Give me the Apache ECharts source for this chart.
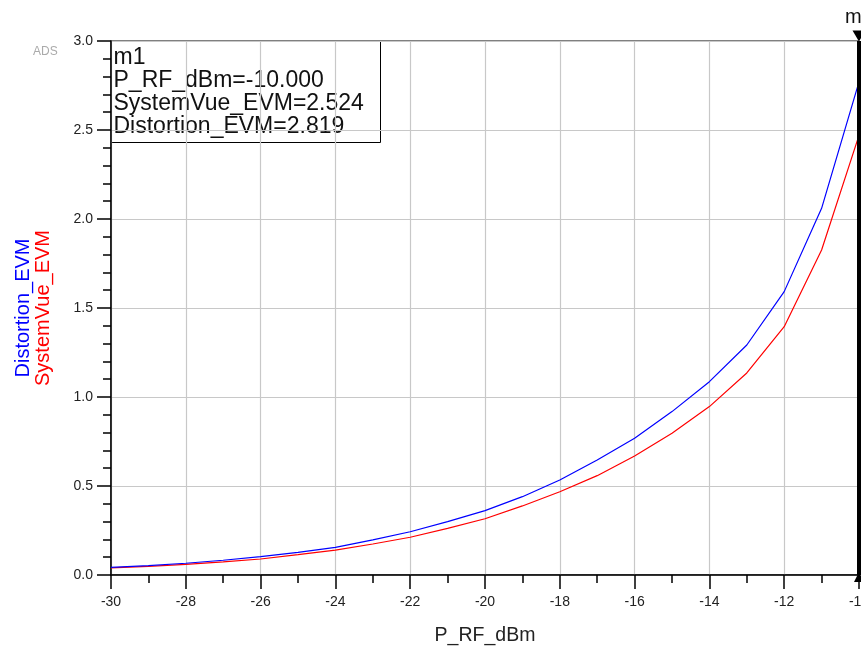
<!DOCTYPE html>
<html>
<head>
<meta charset="utf-8">
<script src="https://cdn.jsdelivr.net/npm/echarts@6/dist/echarts.min.js"></script>
<style>
  html, body { margin: 0; padding: 0; background: #fff; }
  #chart { width: 861px; height: 648px; }
</style>
</head>
<body>
<div id="chart"></div>
<script>
// P_RF_dBm sweep
const pRF = [-30, -29, -28, -27, -26, -25, -24, -23, -22, -21, -20, -19, -18, -17, -16, -15, -14, -13, -12, -11, -10]
// 读图估计的数值
const distortionEVM = [0.043, 0.053, 0.066, 0.083, 0.103, 0.127, 0.155, 0.197, 0.243, 0.30, 0.362, 0.44, 0.534, 0.646, 0.768, 0.918, 1.086, 1.292, 1.592, 2.06, 2.77]
const systemVueEVM = [0.040, 0.049, 0.060, 0.074, 0.090, 0.114, 0.140, 0.174, 0.212, 0.262, 0.316, 0.388, 0.468, 0.558, 0.669, 0.796, 0.946, 1.135, 1.395, 1.826, 2.47]
// marker m1
const markerX = -10
const markerLines = ['m1', 'P_RF_dBm=-10.000', 'SystemVue_EVM=2.524', 'Distortion_EVM=2.819']

const font = 'Liberation Sans, Arial, sans-serif'
const chart = echarts.init(document.getElementById('chart'))

let option = {
  animation: false,
  textStyle: { fontFamily: font },
  grid: {
    left: 111,
    right: 2,
    top: 41,
    bottom: 73,
    outerBoundsMode: 'none',
    containLabel: false,
    show: true,
    borderColor: '#000',
    borderWidth: 1
  },
  xAxis: {
    type: 'value',
    min: -30,
    max: -10,
    interval: 2,
    name: 'P_RF_dBm',
    nameLocation: 'middle',
    nameGap: 51,
    nameTextStyle: { fontSize: 19.5, color: '#222', fontFamily: font },
    axisLine: { lineStyle: { color: '#000', width: 1.5 } },
    axisTick: { length: 14, lineStyle: { color: '#000', width: 1.5 } },
    minorTick: { show: true, splitNumber: 2, length: 8, lineStyle: { color: '#000', width: 1.5 } },
    axisLabel: { fontSize: 14, color: '#222', margin: 20, fontFamily: font, showMaxLabel: true, hideOverlap: false },
    splitLine: { lineStyle: { color: '#c8c8c8', width: 1.2 } }
  },
  yAxis: {
    type: 'value',
    min: 0,
    max: 3,
    interval: 0.5,
    name: '{a|Distortion_EVM}\n{b|SystemVue_EVM}',
    nameLocation: 'middle',
    nameRotate: 90,
    nameGap: 58,
    nameTextStyle: {
      fontFamily: font,
      lineHeight: 20,
      rich: {
        a: { color: '#0000ff', fontSize: 20, fontFamily: font, lineHeight: 20 },
        b: { color: '#ff0000', fontSize: 20, fontFamily: font, lineHeight: 20 }
      }
    },
    axisLine: { show: true, lineStyle: { color: '#000', width: 1.5 } },
    axisTick: { show: true, length: 14, lineStyle: { color: '#000', width: 1.5 } },
    minorTick: { show: true, splitNumber: 5, length: 8, lineStyle: { color: '#000', width: 1.5 } },
    axisLabel: {
      fontSize: 14,
      color: '#222',
      margin: 18,
      fontFamily: font,
      formatter: v => v.toFixed(1)
    },
    splitLine: { lineStyle: { color: '#c8c8c8', width: 1.2 } }
  },
  series: [
    {
      name: 'SystemVue_EVM',
      type: 'line',
      data: pRF.map((x, i) => [x, systemVueEVM[i]]),
      showSymbol: false,
      lineStyle: { color: '#ff0000', width: 1.2 },
      itemStyle: { color: '#ff0000' }
    },
    {
      name: 'Distortion_EVM',
      type: 'line',
      data: pRF.map((x, i) => [x, distortionEVM[i]]),
      showSymbol: false,
      lineStyle: { color: '#0000ff', width: 1.2 },
      itemStyle: { color: '#0000ff' },
      markLine: {
        silent: true,
        symbol: 'none',
        label: { show: false },
        lineStyle: { color: '#000', width: 4, type: 'solid' },
        data: [{ xAxis: markerX }]
      },
      markPoint: {
        silent: true,
        data: [
          {
            coord: [markerX, 3],
            symbol: 'triangle',
            symbolRotate: 180,
            symbolSize: [13, 11],
            symbolOffset: [0, -5],
            itemStyle: { color: '#000' },
            label: {
              show: true,
              position: 'top',
              distance: 3,
              formatter: 'm1',
              fontSize: 20,
              color: '#111',
              fontFamily: font
            }
          },
          {
            coord: [markerX, 0],
            symbol: 'triangle',
            symbolSize: [10, 10],
            symbolOffset: [0, 2],
            itemStyle: { color: '#000' },
            label: { show: false }
          }
        ]
      }
    }
  ],
  graphic: [
    {
      type: 'text',
      left: 33,
      top: 46,
      style: { text: 'ADS', fontSize: 12, fill: '#aaa', fontFamily: font }
    },
    {
      type: 'group',
      left: 111,
      top: 41,
      children: [
        {
          type: 'rect',
          shape: { x: 0, y: 0, width: 269, height: 101 },
          style: { fill: 'rgba(255,255,255,0)', stroke: '#000', lineWidth: 1 }
        },
        {
          type: 'text',
          x: 2,
          y: 5,
          style: {
            text: markerLines.join('\n'),
            fontSize: 23,
            lineHeight: 23,
            fill: '#111',
            fontFamily: font
          }
        }
      ]
    }
  ]
}
chart.setOption(option)
</script>
</body>
</html>
